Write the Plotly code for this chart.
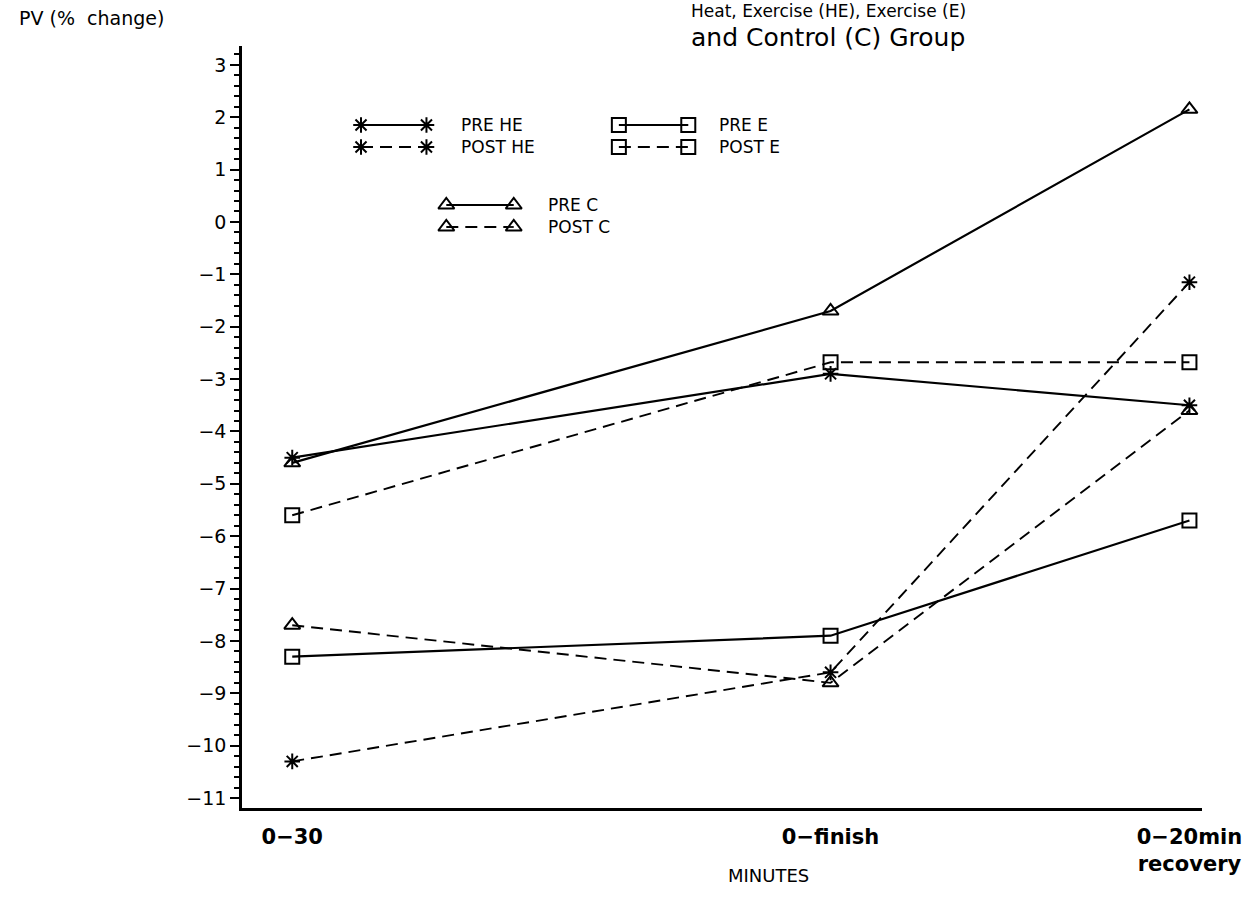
import plotly.graph_objects as go

# ---- data ----
x_pos = [0, 3, 5]
x_labels = ["0\u221230", "0\u2212finish", "0\u221220min<br>recovery"]

pre_he = [-4.5, -2.9, -3.5]
post_he = [-10.3, -8.6, -1.15]
pre_e = [-8.3, -7.9, -5.7]
post_e = [-5.6, -2.68, -2.68]
pre_c = [-4.6, -1.7, 2.15]
post_c = [-7.7, -8.8, -3.6]

y_ticks = list(range(3, -12, -1))

series = [
    ("PRE HE", pre_he, "asterisk-open", "solid"),
    ("POST HE", post_he, "asterisk-open", "12px,7px"),
    ("PRE E", pre_e, "square-open", "solid"),
    ("POST E", post_e, "square-open", "12px,7px"),
    ("PRE C", pre_c, "triangle-up-open", "solid"),
    ("POST C", post_c, "triangle-up-open", "12px,7px"),
]

title_lines = ["Heat, Exercise (HE), Exercise (E)", "and Control (C) Group"]

# ---- layout constants (pixel positions) ----
W, H = 1254, 917
L, R, T, B = 242, 44, 46, 109
PW, PH = W - L - R, H - T - B
FONT = "DejaVu Sans"


def px(xp):
    return (xp - L) / PW


def py(yp):
    return (H - B - yp) / PH


fig = go.Figure()

for name, vals, sym, dash in series:
    size = 13 if sym == "asterisk-open" else 14
    fig.add_trace(go.Scatter(
        x=x_pos, y=vals, mode="lines+markers", name=name,
        line=dict(color="black", width=2.2 if dash == "solid" else 1.9, dash=dash),
        marker=dict(symbol=sym, size=size, color="black", line=dict(color="black", width=2)),
        showlegend=False, xaxis="x", yaxis="y",
    ))

# ---- custom legend drawn on a pixel-coordinate overlay axis ----
legend_items = [
    # name, symbol, dash, x0, x1, y, text x
    ("PRE HE", "asterisk-open", "solid", 362, 428, 125, 462),
    ("POST HE", "asterisk-open", "12px,7px", 362, 428, 147, 462),
    ("PRE E", "square-open", "solid", 622, 692, 125, 722),
    ("POST E", "square-open", "12px,7px", 622, 692, 147, 722),
    ("PRE C", "triangle-up-open", "solid", 448, 516, 205, 550),
    ("POST C", "triangle-up-open", "12px,7px", 448, 516, 227, 550),
]
for name, sym, dash, x0, x1, yy, tx in legend_items:
    size = 13 if sym == "asterisk-open" else 14
    fig.add_trace(go.Scatter(
        x=[x0, x1], y=[yy, yy], mode="lines+markers",
        line=dict(color="black", width=2 if dash == "solid" else 1.8, dash=dash),
        marker=dict(symbol=sym, size=size, color="black", line=dict(color="black", width=2)),
        showlegend=False, xaxis="x2", yaxis="y2", hoverinfo="skip",
    ))
    fig.add_annotation(x=px(tx), y=py(yy), xref="paper", yref="paper", text=name, showarrow=False,
                       xanchor="left", yanchor="middle", borderpad=0,
                       font=dict(family=FONT, size=17, color="black"))

fig.update_layout(
    width=W, height=H,
    margin=dict(l=L, r=R, t=T, b=B, pad=0),
    paper_bgcolor="white", plot_bgcolor="white",
    showlegend=False,
    xaxis=dict(
        range=[-0.28, 5.07], tickvals=x_pos, ticktext=x_labels,
        showgrid=False, zeroline=False, showline=True, linecolor="black", linewidth=2.5,
        ticks="", tickfont=dict(family=FONT, size=21, color="black", weight="bold"),
        ticklabelstandoff=8,
    ),
    yaxis=dict(
        range=[-11.19, 3.36], tickvals=y_ticks,
        showgrid=False, zeroline=False, showline=True, linecolor="black", linewidth=2.5,
        ticks="outside", ticklen=9, tickwidth=2, tickcolor="black",
        tickfont=dict(family=FONT, size=19, color="black"),
        minor=dict(dtick=0.2, ticks="outside", ticklen=5, tickwidth=1.5, tickcolor="black", showgrid=False),
    ),
    xaxis2=dict(range=[L, W - R], overlaying="x", visible=False, fixedrange=True),
    yaxis2=dict(range=[H - B, T], overlaying="y", visible=False, fixedrange=True),
)

# title: two lines at the top of the page
fig.add_annotation(
    x=px(833), y=py(0), xref="paper", yref="paper", showarrow=False,
    text=title_lines[0], xanchor="center", yanchor="top", borderpad=0,
    font=dict(family=FONT, size=17, color="black"),
)
fig.add_annotation(
    x=px(833), y=py(37), xref="paper", yref="paper", showarrow=False,
    text=title_lines[1], xanchor="center", yanchor="middle", borderpad=0,
    font=dict(family=FONT, size=25, color="black"),
)
fig.add_annotation(
    x=px(15), y=py(18), xref="paper", yref="paper", showarrow=False,
    text="PV (%  change)", xanchor="left", yanchor="middle",
    font=dict(family=FONT, size=19, color="black"),
)
fig.add_annotation(
    x=px(773), y=py(875), xref="paper", yref="paper", showarrow=False,
    text="MINUTES", xanchor="center", yanchor="middle",
    font=dict(family=FONT, size=18, color="black"),
)

fig.write_html("out.html")
